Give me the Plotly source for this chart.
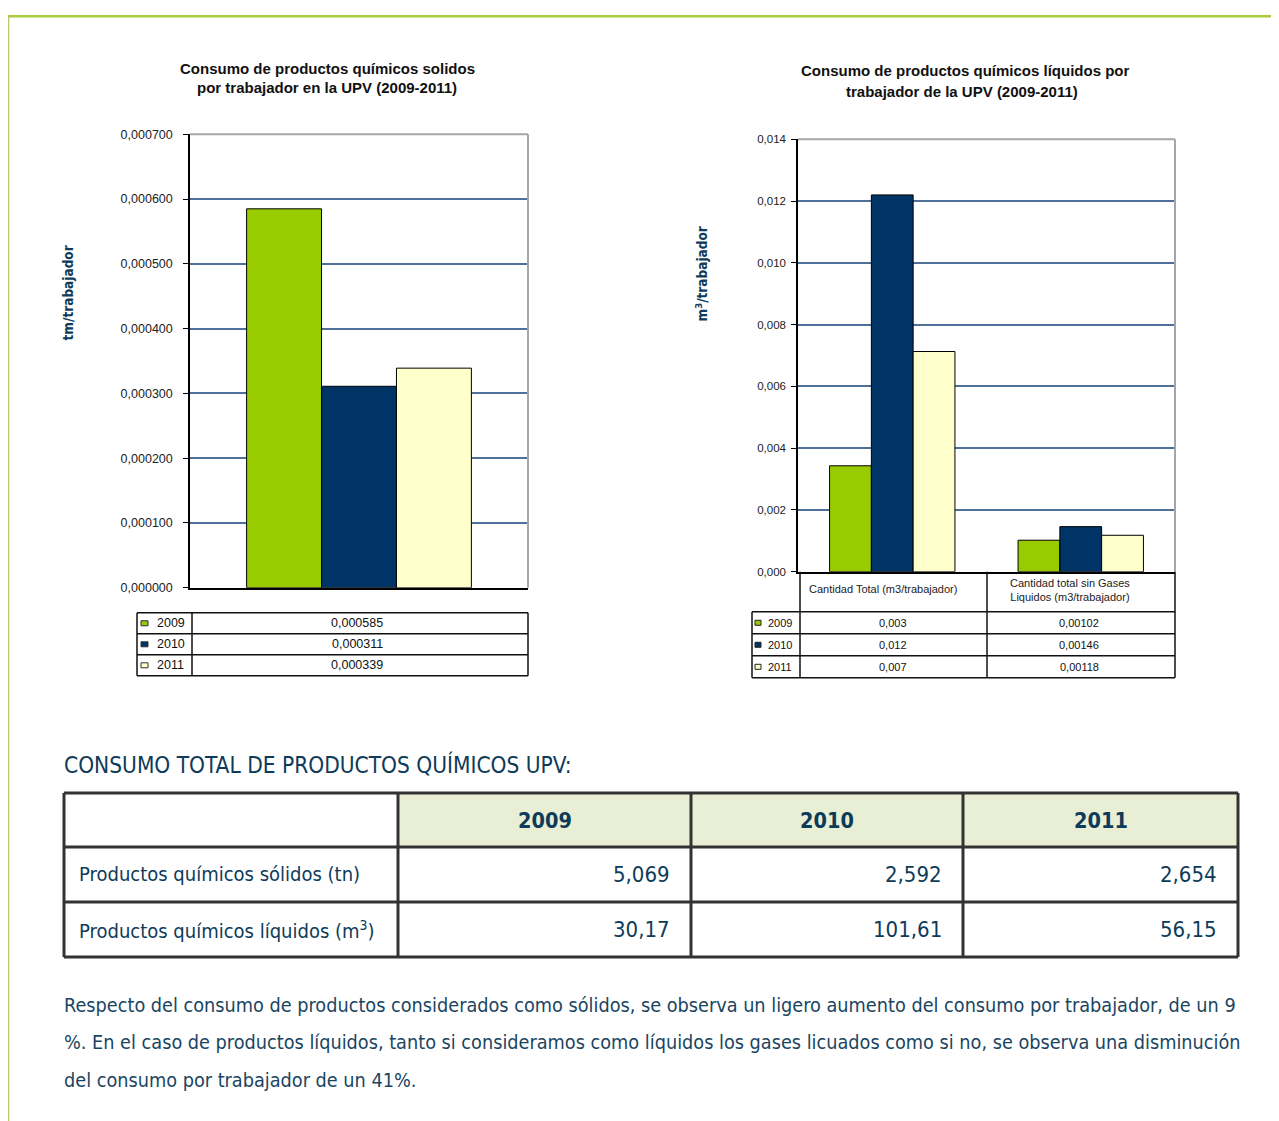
import plotly.graph_objects as go

# ── page geometry ─────────────────────────────────────────────────────────────
# measured on earlier runs: the figure lands 8px in from the left and 16px
# down, and the photo squeezes the height by ~0.9866. Everything below is
# placed in reference-pixel coordinates and mapped through X()/Y().
LEFT, TOP, VSCALE = 8, 16, 0.9866
W = 1279 - 2 * LEFT
H = int(round(1121 / VSCALE - TOP))


def X(px):
    return (px - LEFT) / W


def Y(py):
    return 1 - max(py / VSCALE - TOP, 1.2) / H


# ── data ──────────────────────────────────────────────────────────────────────
YEARS = ["2009", "2010", "2011"]
YEAR_COLORS = ["#99cc00", "#003366", "#ffffcc"]

SOLID_PER_WORKER = [0.000585, 0.000311, 0.000339]

LIQ_CATEGORIES = ["Cantidad Total (m3/trabajador)",
                  "Cantidad total sin Gases<br>Liquidos (m3/trabajador)"]
LIQ_TOTAL = [0.00343, 0.0122, 0.00713]
LIQ_NO_GAS = [0.00102, 0.00146, 0.00118]

TABLE_ROWS = ["Productos químicos sólidos (tn)",
              "Productos químicos líquidos (m<sup>3</sup>)"]
TOTAL_SOLID = [5.069, 2.592, 2.654]
TOTAL_LIQUID = [30.17, 101.61, 56.15]

PARAGRAPH = [
    "Respecto del consumo de productos considerados como sólidos, se observa un ligero aumento del consumo por trabajador, de un 9",
    "%. En el caso de productos líquidos, tanto si consideramos como líquidos los gases licuados como si no, se observa una disminución",
    "del consumo por trabajador de un 41%.",
]

# ── styling ───────────────────────────────────────────────────────────────────
NARROW = "DejaVu Sans Condensed, Liberation Sans Narrow, sans-serif"
ARIAL = "Liberation Sans, Arial, sans-serif"
DARK_BLUE = "#0e3b59"
GRID = "#4f7099"
FRAME_GREEN = "#a8cc3c"

fig = go.Figure()

# ── bars ──────────────────────────────────────────────────────────────────────
for i, yr in enumerate(YEARS):
    fig.add_trace(go.Bar(
        x=[""], y=[SOLID_PER_WORKER[i]], name=yr,
        marker=dict(color=YEAR_COLORS[i], line=dict(color="#000000", width=1)),
        xaxis="x", yaxis="y", showlegend=False, hoverinfo="y",
    ))
    fig.add_trace(go.Bar(
        x=LIQ_CATEGORIES, y=[LIQ_TOTAL[i], LIQ_NO_GAS[i]], name=yr,
        marker=dict(color=YEAR_COLORS[i], line=dict(color="#000000", width=1)),
        xaxis="x2", yaxis="y2", showlegend=False, hoverinfo="y",
    ))

AXIS_Y = dict(
    showline=True, linecolor="#000000", linewidth=1.5,
    ticks="outside", ticklen=5, tickcolor="#000000", tickwidth=1,
    showgrid=True, gridcolor=GRID, gridwidth=2, zeroline=False,
    fixedrange=True,
)
AXIS_X = dict(
    showline=True, linecolor="#000000", linewidth=1.5,
    showticklabels=False, ticks="", showgrid=False, fixedrange=True,
)

fig.update_layout(
    width=W, height=H, autosize=False,
    margin=dict(l=0, r=0, t=0, b=0),
    paper_bgcolor="#ffffff", plot_bgcolor="#ffffff",
    separators=",.",
    barmode="group", bargap=0.335, bargroupgap=0,
    xaxis=dict(domain=[X(190), X(528)], anchor="y", **AXIS_X),
    yaxis=dict(domain=[Y(588), Y(135)], anchor="x", range=[0, 0.0007],
               dtick=0.0001, tickformat=".6f", ticklabelstandoff=8,
               tickfont=dict(family=ARIAL, size=12.5, color="#222222"), **AXIS_Y),
    xaxis2=dict(domain=[X(798), X(1175)], anchor="y2", **AXIS_X),
    yaxis2=dict(domain=[Y(572), Y(140)], anchor="x2", range=[0, 0.014],
                dtick=0.002, tickformat=".3f", ticklabelstandoff=3,
                tickfont=dict(family=ARIAL, size=11.5, color="#222222"), **AXIS_Y),
)

shapes = []
ann = []


def line(x0, y0, x1, y1, color="#000000", width=1.5, layer="above"):
    shapes.append(dict(type="line", xref="paper", yref="paper",
                       x0=X(x0), y0=Y(y0), x1=X(x1), y1=Y(y1),
                       line=dict(color=color, width=width), layer=layer))


def rect(x0, y0, x1, y1, fill, color="#000000", width=1, layer="above"):
    shapes.append(dict(type="rect", xref="paper", yref="paper",
                       x0=X(x0), y0=Y(y0), x1=X(x1), y1=Y(y1),
                       fillcolor=fill, line=dict(color=color, width=width), layer=layer))


def text(x, y, s, size, color="#000000", family=ARIAL, xanchor="center",
         yanchor="middle", angle=0, bold=False):
    if bold:
        s = "<b>" + s + "</b>"
    ann.append(dict(x=X(x), y=Y(y), xref="paper", yref="paper", text=s,
                    showarrow=False, xanchor=xanchor, yanchor=yanchor,
                    textangle=angle, font=dict(family=family, size=size, color=color)))


# ── page frame ────────────────────────────────────────────────────────────────
line(8, 11, 1279, 11, FRAME_GREEN, 2.5)
line(8.7, 11, 8.7, 1125, "#b5c36a", 1.2)

# ── chart 1: solids ───────────────────────────────────────────────────────────
text(327, 69, "Consumo de productos químicos solidos", 15, "#111111", bold=True)
text(327, 88, "por trabajador en la UPV (2009-2011)", 15, "#111111", bold=True)
text(68, 294, "tm/trabajador", 13.5, DARK_BLUE, NARROW, angle=-90, bold=True)
line(190, 135, 528, 135, "#a6a6a6", 2)
line(528, 135, 528, 588, "#a6a6a6", 2)

# data table under chart 1
for yy in (613, 634, 655, 676):
    line(137, yy, 528, yy, "#111111", 1.5)
for xx in (137, 192, 528):
    line(xx, 613, xx, 676, "#111111", 1.5)
for i, yr in enumerate(YEARS):
    cy = 623.5 + 21 * i
    rect(141, cy - 2.5, 148, cy + 2.5, YEAR_COLORS[i], "#333333", 1)
    text(155, cy, yr, 12.5, "#111111", xanchor="left")
    text(357, cy, f"{SOLID_PER_WORKER[i]:.6f}".replace(".", ","), 12.5, "#111111")

# ── chart 2: liquids ──────────────────────────────────────────────────────────
text(965, 71, "Consumo de productos químicos líquidos por", 15, "#111111", bold=True)
text(962, 92, "trabajador de la UPV (2009-2011)", 15, "#111111", bold=True)
text(702, 275, "m<sup>3</sup>/trabajador", 13.5, DARK_BLUE, NARROW, angle=-90, bold=True)
line(798, 140, 1175, 140, "#a6a6a6", 2)
line(1175, 140, 1175, 572, "#a6a6a6", 2)

# data table under chart 2
for xx in (800, 987, 1175):
    line(xx, 572, xx, 678, "#111111", 1.5)
line(752, 612, 752, 678, "#111111", 1.5)
for yy in (612, 634, 656, 678):
    line(752, yy, 1175, yy, "#111111", 1.5)
text(883, 589, LIQ_CATEGORIES[0], 11, "#222222")
text(1070, 590, LIQ_CATEGORIES[1], 11, "#222222")
for i, yr in enumerate(YEARS):
    cy = 623 + 22 * i
    rect(755, cy - 2.5, 761, cy + 2.5, YEAR_COLORS[i], "#222222", 1)
    text(766, cy, yr, 11, "#111111", xanchor="left")
    text(893, cy, f"{LIQ_TOTAL[i]:.3f}".replace(".", ","), 11, "#111111")
    text(1079, cy, f"{LIQ_NO_GAS[i]:.5f}".replace(".", ","), 11, "#111111")

# ── total consumption table ───────────────────────────────────────────────────
text(62, 765, "CONSUMO TOTAL DE PRODUCTOS QUÍMICOS UPV:", 22.5, DARK_BLUE, NARROW,
     xanchor="left")

col_edges = [64, 398, 691, 963, 1238]
row_edges = [793, 847, 902, 957]
for c in range(1, 4):
    rect(col_edges[c], row_edges[0], col_edges[c + 1], row_edges[1], "#e8efd5",
         "#e8efd5", 0, layer="below")
for xx in col_edges:
    line(xx, row_edges[0], xx, row_edges[-1], "#333333", 3)
for yy in row_edges:
    line(col_edges[0], yy, col_edges[-1], yy, "#333333", 3)

for c, yr in enumerate(YEARS):
    text((col_edges[c + 1] + col_edges[c + 2]) / 2, 821, yr, 21.5, DARK_BLUE, NARROW,
         bold=True)
for r, (label, vals, fmt) in enumerate([(TABLE_ROWS[0], TOTAL_SOLID, "{:.3f}"),
                                        (TABLE_ROWS[1], TOTAL_LIQUID, "{:.2f}")]):
    cy = (row_edges[r + 1] + row_edges[r + 2]) / 2
    text(77, cy, label, 20, DARK_BLUE, NARROW, xanchor="left")
    for c in range(3):
        text(col_edges[c + 2] - 19, cy, fmt.format(vals[c]).replace(".", ","), 22,
             DARK_BLUE, NARROW, xanchor="right")

# ── paragraph ─────────────────────────────────────────────────────────────────
for i, ln in enumerate(PARAGRAPH):
    text(62, 1005 + 37.5 * i, ln, 19.7, "#1a4561", NARROW, xanchor="left")

fig.update_layout(shapes=shapes, annotations=ann)
fig.write_html("out.html")
